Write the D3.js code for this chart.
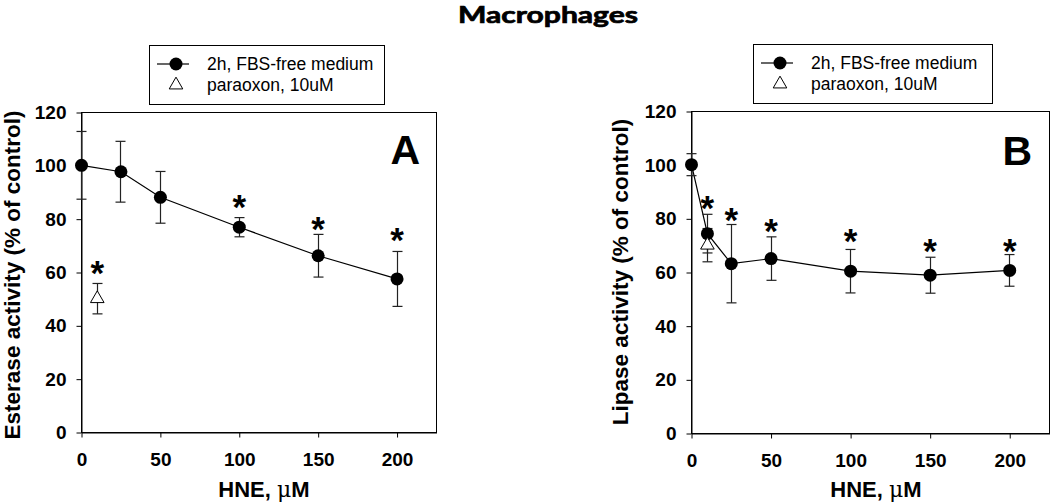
<!DOCTYPE html>
<html><head><meta charset="utf-8">
<script src="https://cdn.jsdelivr.net/npm/d3@7"></script>
<style>body{margin:0;background:#fff} svg{display:block}</style>
</head><body>
<svg id="c" width="1050" height="503"></svg>
<script>
// ---------- data ----------
const xTickValues = [0, 50, 100, 150, 200];
const yTickValues = [0, 20, 40, 60, 80, 100, 120];
const xDomain = [0, 225];
const yDomain = [0, 120];

const hneA = [0, 25, 50, 100, 150, 200];
const esteraseMean = [100, 97.6, 88.0, 76.8, 66.1, 57.4];
const esteraseErr = [12.7, 11.4, 9.7, 3.6, 8.0, 10.3];
const esteraseStar = [null, null, null, 84.0, 75.6, 71.5];
const paraoxonDoseA = [10];
const paraoxonMeanA = [50.0];
const paraoxonErrA = [5.7];
const paraoxonStarA = [59.0];

const hneB = [0, 10, 25, 50, 100, 150, 200];
const lipaseMean = [100, 74.3, 63.1, 65.0, 60.3, 58.8, 60.6];
const lipaseErr = [4.1, 7.2, 14.6, 8.1, 8.1, 6.7, 5.9];
const lipaseStar = [null, 83.3, 79.0, 74.9, 71.0, 67.1, 67.1];
const paraoxonDoseB = [10];
const paraoxonMeanB = [70.0];
const paraoxonErrB = [6.2];
const paraoxonStarB = [null];

const legendLabels = ["2h, FBS-free medium", "paraoxon, 10uM"];
const titleText = "Macrophages";
const yLabels = ["Esterase activity (% of control)", "Lipase activity (% of control)"];
const panelLetters = ["A", "B"];

// ---------- layout ----------
const FONT = "'Liberation Sans', Arial, Helvetica, sans-serif";
const svg = d3.select("#c");

const panels = [
  {left: 81, right: 436, top: 112, bottom: 432,
   x: hneA, m: esteraseMean, e: esteraseErr, s: esteraseStar,
   px: paraoxonDoseA, pm: paraoxonMeanA, pe: paraoxonErrA, ps: paraoxonStarA,
   yLab: yLabels[0], yLabX: 20, yLabY: 275, xLabX: 264, letter: panelLetters[0], letterX: 420, letterY: 164,
   legend: {x: 149, y: 45, w: 235, h: 59}},
  {left: 691, right: 1049, top: 111, bottom: 433,
   x: hneB, m: lipaseMean, e: lipaseErr, s: lipaseStar,
   px: paraoxonDoseB, pm: paraoxonMeanB, pe: paraoxonErrB, ps: paraoxonStarB,
   yLab: yLabels[1], yLabX: 628, yLabY: 272, xLabX: 876, letter: panelLetters[1], letterX: 1032, letterY: 165,
   legend: {x: 753, y: 44, w: 239, h: 59}}
];

svg.append("text").attr("x", 548).attr("y", 23).attr("text-anchor", "middle")
  .attr("textLength", 180).attr("lengthAdjust", "spacingAndGlyphs")
  .style("font-family", "Lato, 'Open Sans', sans-serif").style("font-weight", 700).style("font-size", "22.5px")
  .style("stroke", "#000").style("stroke-width", 0.7)
  .text(titleText);

const STAR_FS = 35;
const CAP = 5;

panels.forEach(p => {
  const g = svg.append("g");
  const x = d3.scaleLinear().domain(xDomain).range([p.left, p.right]);
  const y = d3.scaleLinear().domain(yDomain).range([p.bottom, p.top]);

  // frame
  g.append("rect").attr("x", p.left + 0.5).attr("y", p.top + 0.5)
    .attr("width", p.right - p.left).attr("height", p.bottom - p.top)
    .attr("fill", "none").attr("stroke", "#000").attr("stroke-width", 1);

  const ya = g.append("g").attr("transform", `translate(${p.left + 0.5},0.5)`)
    .call(d3.axisLeft(y).tickValues(yTickValues).tickSize(5).tickSizeOuter(0).tickPadding(10));
  const xa = g.append("g").attr("transform", `translate(0.5,${p.bottom + 0.5})`)
    .call(d3.axisBottom(x).tickValues(xTickValues).tickSize(5).tickSizeOuter(0).tickPadding(15));
  [ya, xa].forEach(a => {
    a.select(".domain").attr("stroke", "#000");
    a.selectAll(".tick line").attr("stroke", "#000");
    a.selectAll(".tick text").style("font-family", FONT).style("font-weight", "bold")
      .style("font-size", "19px").attr("fill", "#000");
  });

  // y label
  g.append("text").attr("transform", `translate(${p.yLabX},${p.yLabY}) rotate(-90)`)
    .attr("text-anchor", "middle").style("font-family", FONT).style("font-weight", "bold")
    .style("font-size", "22.5px").text(p.yLab);
  // x label
  const xl = g.append("text").attr("x", p.xLabX).attr("y", 497).attr("text-anchor", "middle")
    .style("font-family", FONT).style("font-weight", "bold").style("font-size", "22px");
  xl.append("tspan").text("HNE, ");
  xl.append("tspan").style("font-family", "'DejaVu Serif', 'Liberation Serif', serif").style("font-weight", "normal").text("\u03BC");
  xl.append("tspan").text("M");

  // panel letter
  g.append("text").attr("x", p.letterX).attr("y", p.letterY).attr("text-anchor", "end")
    .style("font-family", FONT).style("font-weight", "bold").style("font-size", "41px").text(p.letter);

  const main = p.x.map((d, i) => ({x: d, m: p.m[i], e: p.e[i], s: p.s[i]}));
  const para = p.px.map((d, i) => ({x: d, m: p.pm[i], e: p.pe[i], s: p.ps[i]}));

  // line
  g.append("path").datum(main)
    .attr("d", d3.line().x(d => x(d.x) + 0.5).y(d => y(d.m)))
    .attr("fill", "none").attr("stroke", "#000").attr("stroke-width", 1.2);

  // error bars
  const drawErr = data => {
    const eb = g.append("g").attr("stroke", "#222").attr("stroke-width", 1.2);
    data.forEach(d => {
      const cx = Math.round(x(d.x)) + 0.5;
      const y1 = y(d.m + d.e), y2 = y(d.m - d.e);
      eb.append("line").attr("x1", cx).attr("x2", cx).attr("y1", y1).attr("y2", y2);
      eb.append("line").attr("x1", cx - CAP).attr("x2", cx + CAP).attr("y1", y1).attr("y2", y1);
      eb.append("line").attr("x1", cx - CAP).attr("x2", cx + CAP).attr("y1", y2).attr("y2", y2);
    });
  };
  drawErr(main);
  drawErr(para);

  // circles
  g.selectAll("circle.m").data(main).join("circle")
    .attr("cx", d => x(d.x) + 0.5).attr("cy", d => y(d.m)).attr("r", 6.5).attr("fill", "#000");

  // triangles
  const tri = d3.symbol().type(d3.symbolTriangle).size(80);
  g.selectAll("path.t").data(para).join("path")
    .attr("transform", d => `translate(${x(d.x) + 0.5},${y(d.m)})`)
    .attr("d", tri).attr("fill", "#fff").attr("stroke", "#000").attr("stroke-width", 1);

  // asterisks
  const stars = main.concat(para).filter(d => d.s != null);
  g.selectAll("text.star").data(stars).join("text")
    .attr("x", d => x(d.x) + 0.5).attr("y", d => y(d.s) + 0.3 * STAR_FS)
    .attr("text-anchor", "middle").style("font-family", FONT).style("font-weight", "bold")
    .style("font-size", STAR_FS + "px").text("*");

  // legend
  const L = p.legend;
  const lg = g.append("g");
  lg.append("rect").attr("x", L.x + 0.5).attr("y", L.y + 0.5).attr("width", L.w).attr("height", L.h)
    .attr("fill", "#fff").attr("stroke", "#000").attr("stroke-width", 1);
  const r1 = L.y + 19, r2 = L.y + 40;
  lg.append("line").attr("x1", L.x + 8).attr("x2", L.x + 40).attr("y1", r1).attr("y2", r1)
    .attr("stroke", "#000").attr("stroke-width", 1.2);
  lg.append("circle").attr("cx", L.x + 27).attr("cy", r1).attr("r", 6.5).attr("fill", "#000");
  lg.append("path").attr("transform", `translate(${L.x + 27},${r2})`).attr("d", tri)
    .attr("fill", "#fff").attr("stroke", "#000");
  legendLabels.forEach((t, i) => {
    lg.append("text").attr("x", L.x + 58).attr("y", (i ? r2 : r1) + 6)
      .style("font-family", FONT).style("font-size", "17.5px").text(t);
  });
});
</script>
</body></html>
